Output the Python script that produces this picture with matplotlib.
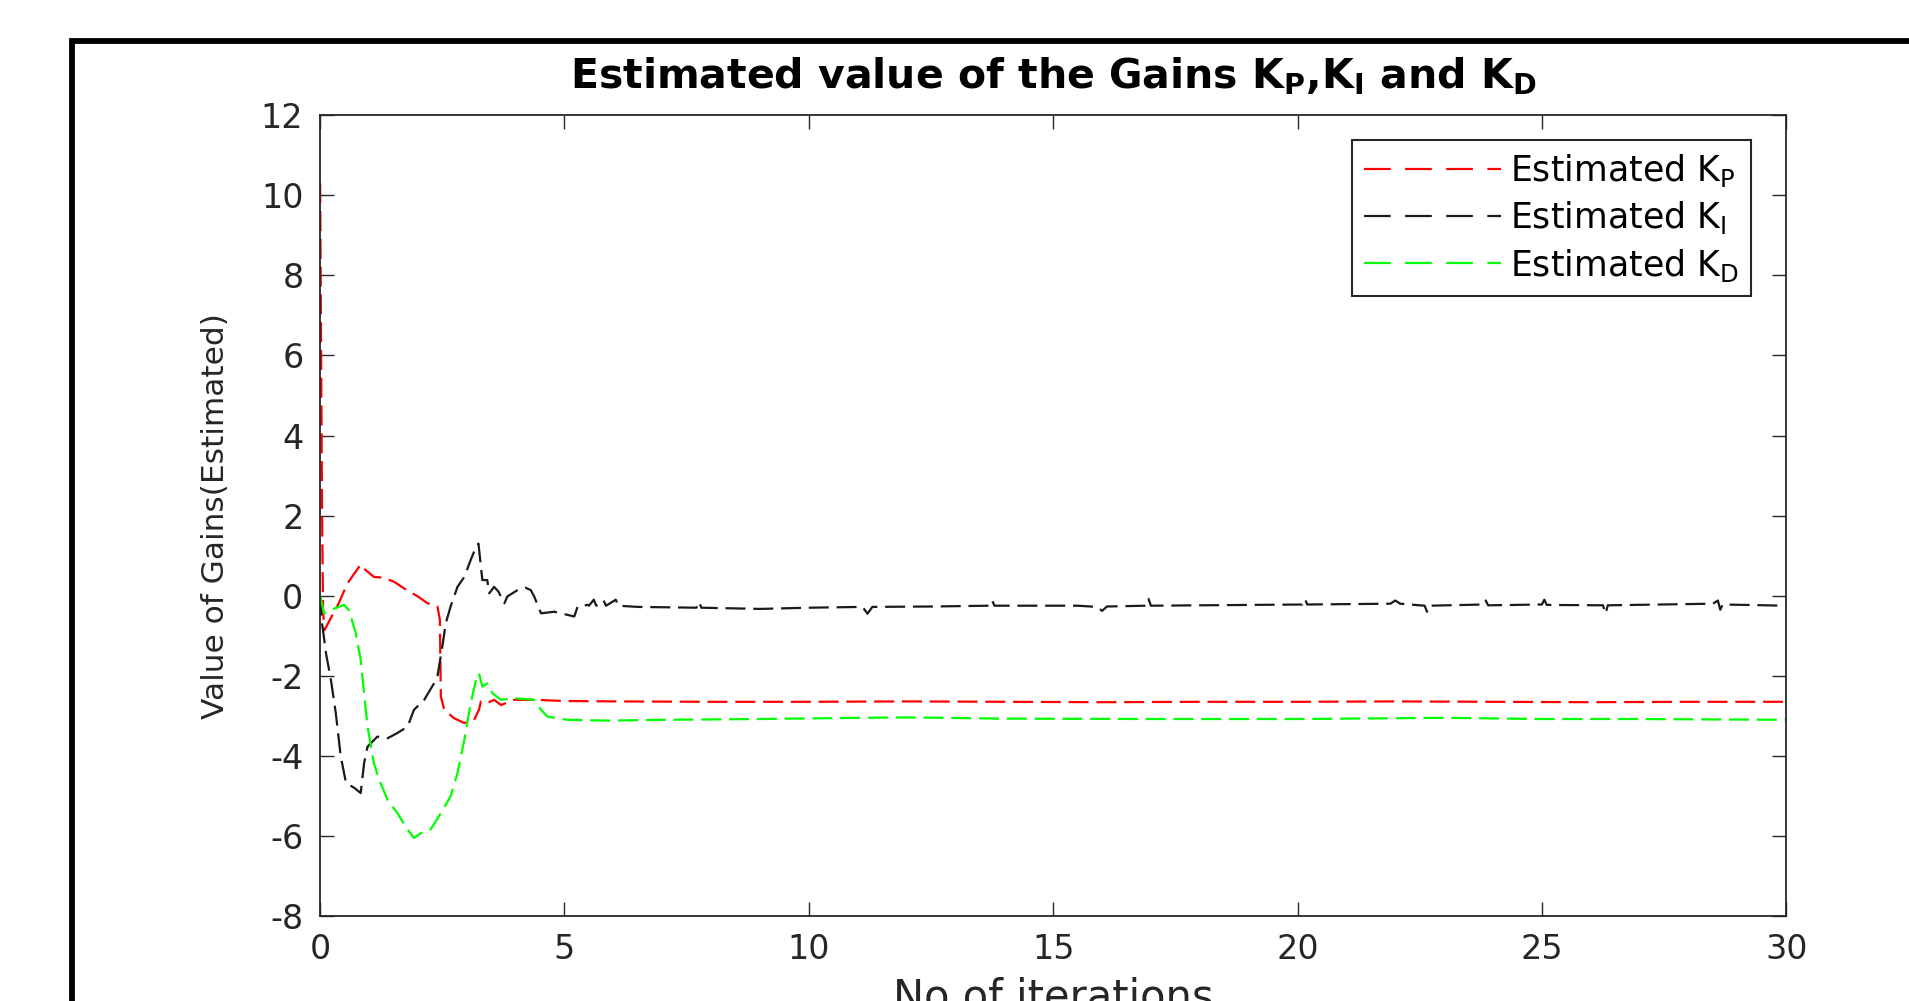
import numpy as np
import matplotlib
matplotlib.use('Agg')
import matplotlib.pyplot as plt
from matplotlib.lines import Line2D
from matplotlib.patches import Rectangle

plt.rcParams.update({'font.family': 'DejaVu Sans', 'font.size': 22,
                     'mathtext.fontset': 'dejavusans',
                     'axes.unicode_minus': False})

# estimated K_P
kp_x = [0, 0.02, 0.04, 0.06, 0.09, 0.2, 0.35, 0.56, 0.83, 0.93, 1.1, 1.3, 1.51, 1.72,
        2.0, 2.2, 2.4, 2.45, 2.47, 2.54, 2.74, 2.95, 3.15, 3.25, 3.29, 3.42, 3.56,
        3.7, 3.97, 4.38, 5.0, 6, 8, 10, 12, 14, 16, 18, 20, 22, 24, 26, 28, 30]
kp_y = [10.3, 6.0, 2.0, -0.4, -0.86, -0.6, -0.27, 0.31, 0.78, 0.64, 0.47, 0.45, 0.35, 0.18,
        -0.02, -0.19, -0.27, -0.6, -2.52, -2.85, -3.06, -3.18, -3.1, -2.85, -2.64, -2.68, -2.6,
        -2.73, -2.6, -2.6, -2.63, -2.64, -2.65, -2.65, -2.64, -2.65, -2.66, -2.65, -2.65,
        -2.64, -2.65, -2.66, -2.65, -2.65]

# estimated K_I
ki_x = [0, 0.03, 0.12, 0.22, 0.32, 0.42, 0.53, 0.7, 0.83, 0.9, 0.97, 1.17, 1.38, 1.58,
        1.79, 1.92, 2.13, 2.33, 2.4, 2.5, 2.57, 2.67, 2.81, 2.95, 3.08, 3.19, 3.24, 3.29,
        3.32, 3.42, 3.46, 3.56, 3.65, 3.77, 3.83, 4.04, 4.2, 4.31, 4.38, 4.52, 4.79, 5.2,
        5.27, 5.47, 5.5, 5.6, 5.65, 5.8, 5.85, 6.05, 6.1, 6.5, 7.7, 7.75, 7.8, 9, 10,
        11.1, 11.2, 11.3, 12.5, 13.7, 13.75, 13.8, 15.5, 15.9, 16.0, 16.1, 16.9, 16.95,
        17.0, 20.1, 20.15, 20.2, 21.9, 22.0, 22.1, 22.6, 22.65, 22.7, 23.8, 23.85, 23.9,
        25.0, 25.05, 25.1, 26.25, 26.3, 26.35, 28.5, 28.6, 28.65, 28.7, 30]
ki_y = [0, -0.6, -1.44, -2.1, -2.93, -4.0, -4.68, -4.8, -4.93, -4.18, -3.77, -3.52, -3.56, -3.43,
        -3.27, -2.85, -2.6, -2.19, -2.02, -1.27, -0.69, -0.27, 0.22, 0.47, 0.89, 1.22, 1.3, 0.72,
        0.39, 0.39, 0.06, 0.22, 0.1, -0.19, -0.02, 0.14, 0.2, 0.14, -0.02, -0.44, -0.4, -0.52,
        -0.27, -0.23, -0.25, -0.1, -0.25, -0.12, -0.25, -0.1, -0.25, -0.28, -0.3, -0.15, -0.3, -0.33, -0.3,
        -0.28, -0.45, -0.28, -0.27, -0.25, -0.12, -0.25, -0.25, -0.28, -0.38, -0.27, -0.25, -0.08,
        -0.25, -0.22, -0.08, -0.22, -0.2, -0.12, -0.2, -0.25, -0.4, -0.25, -0.22, -0.12, -0.24,
        -0.22, -0.1, -0.23, -0.24, -0.45, -0.24, -0.2, -0.12, -0.35, -0.22, -0.25]

# estimated K_D
kd_x = [0, 0.08, 0.29, 0.49, 0.59, 0.73, 0.83, 0.9, 0.97, 1.1, 1.21, 1.38, 1.58, 1.79, 1.92,
        2.06, 2.26, 2.47, 2.67, 2.81, 2.95, 3.08, 3.19, 3.25, 3.32, 3.42, 3.53, 3.7, 3.97,
        4.38, 4.52, 4.65, 5.06, 5.88, 7, 9, 11, 12, 14, 17, 20, 23, 25, 27, 30]
kd_y = [0, -0.44, -0.32, -0.23, -0.36, -0.94, -1.6, -2.44, -3.27, -4.18, -4.6, -5.1, -5.43, -5.84, -6.05,
        -5.93, -5.84, -5.43, -5.01, -4.43, -3.6, -2.69, -2.1, -1.94, -2.27, -2.19, -2.44, -2.6, -2.56,
        -2.6, -2.85, -3.02, -3.1, -3.12, -3.1, -3.08, -3.05, -3.04, -3.07, -3.08, -3.08, -3.05,
        -3.08, -3.08, -3.1]

labels = ['Estimated K$_\\mathrm{P}$', 'Estimated K$_\\mathrm{I}$', 'Estimated K$_\\mathrm{D}$']
colors = ['#ff0000', '#1a1a1a', '#00ff00']
x_ticks = [0, 5, 10, 15, 20, 25, 30]
y_ticks = [-8, -6, -4, -2, 0, 2, 4, 6, 8, 10, 12]

axcol = '#262626'
fig = plt.figure(figsize=(19.09, 10.01), dpi=100)
ax = fig.add_axes([0.1677, 0.0849, 0.768, 0.800])

for xs, ys, c in zip([kp_x, ki_x, kd_x], [kp_y, ki_y, kd_y], colors):
    ax.plot(xs, ys, color=c, lw=1.6, dashes=(9, 3.5))

ax.set_xlim(0, 30)
ax.set_ylim(-8, 12)
ax.set_xticks(x_ticks)
ax.set_yticks(y_ticks)
ax.tick_params(direction='in', top=True, right=True, length=10, width=1,
               colors=axcol, labelsize=24)
ax.tick_params(axis='x', pad=12)
ax.tick_params(axis='y', pad=12)
for s in ax.spines.values():
    s.set_color(axcol)
    s.set_linewidth(1.3)

ax.set_title(r'Estimated value of the Gains K$_\mathbf{P}$,K$_\mathbf{I}$ and K$_\mathbf{D}$',
             fontsize=29.5, fontweight='bold', pad=19)
ax.set_xlabel('No of iterations', fontsize=30, labelpad=8, color=axcol)
ax.set_ylabel('Value of Gains(Estimated)', fontsize=22.5, labelpad=22, color=axcol)

# legend samples in the MATLAB style (longer dashes)
proxies = [Line2D([], [], color=c, lw=1.6, dashes=(12, 6.5)) for c in colors]
leg = ax.legend(proxies, labels, loc='upper right', fontsize=25, handlelength=3.95,
                handletextpad=0.25, labelspacing=0.3, borderpad=0.35, borderaxespad=0,
                bbox_to_anchor=(0.976, 0.9695), fancybox=False, framealpha=1)
leg.get_frame().set_edgecolor(axcol)
leg.get_frame().set_linewidth(1.5)

# outer black frame, cut by the picture's right and bottom edges
fig.add_artist(Rectangle((0.0377, -0.2), 1.2, 1.159, transform=fig.transFigure,
                         fill=False, edgecolor='black', lw=4.2))

fig.savefig('out.png', dpi=100)
